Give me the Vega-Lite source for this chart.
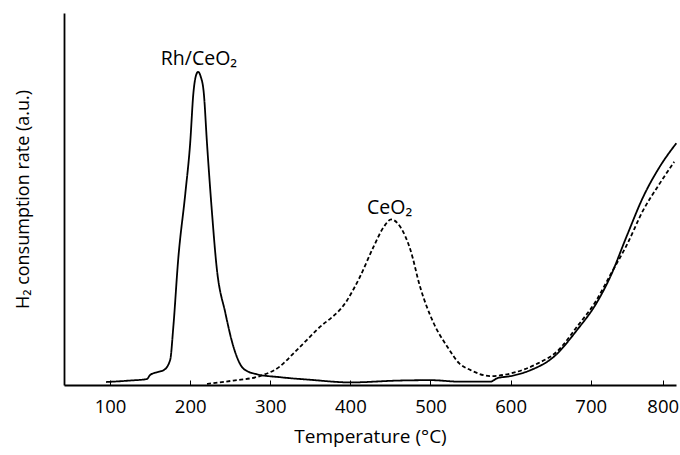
{
  "$schema": "https://vega.github.io/schema/vega-lite/v6.json",
  "width": 612,
  "height": 372,
  "autosize": {"type": "none"},
  "padding": {"left": 64, "top": 13, "right": 4, "bottom": 70},
  "background": "white",
  "config": {
    "view": {"stroke": null},
    "font": "Open Sans",
    "axis": {"grid": false, "domainColor": "black", "domainWidth": 1.8, "labelColor": "black", "titleColor": "black", "titleFontWeight": "normal", "labelFont": "Open Sans", "titleFont": "Open Sans"}
  },
  "datasets": {
    "curves": [
      {"T": 95, "v": 0.8, "s": "Rh/CeO2"},
      {"T": 125, "v": 1.2, "s": "Rh/CeO2"},
      {"T": 146, "v": 1.6, "s": "Rh/CeO2"},
      {"T": 150, "v": 2.7, "s": "Rh/CeO2"},
      {"T": 158, "v": 3.4, "s": "Rh/CeO2"},
      {"T": 167, "v": 4.0, "s": "Rh/CeO2"},
      {"T": 175, "v": 6.7, "s": "Rh/CeO2"},
      {"T": 179, "v": 15.7, "s": "Rh/CeO2"},
      {"T": 185, "v": 33.6, "s": "Rh/CeO2"},
      {"T": 194, "v": 51.6, "s": "Rh/CeO2"},
      {"T": 200, "v": 65, "s": "Rh/CeO2"},
      {"T": 204, "v": 78.4, "s": "Rh/CeO2"},
      {"T": 207, "v": 83, "s": "Rh/CeO2"},
      {"T": 210, "v": 84.2, "s": "Rh/CeO2"},
      {"T": 213, "v": 83, "s": "Rh/CeO2"},
      {"T": 217, "v": 78.5, "s": "Rh/CeO2"},
      {"T": 221, "v": 65, "s": "Rh/CeO2"},
      {"T": 227, "v": 47, "s": "Rh/CeO2"},
      {"T": 233, "v": 31.8, "s": "Rh/CeO2"},
      {"T": 244, "v": 19.3, "s": "Rh/CeO2"},
      {"T": 254, "v": 10.3, "s": "Rh/CeO2"},
      {"T": 267, "v": 4.3, "s": "Rh/CeO2"},
      {"T": 283, "v": 2.9, "s": "Rh/CeO2"},
      {"T": 312, "v": 2.1, "s": "Rh/CeO2"},
      {"T": 350, "v": 1.4, "s": "Rh/CeO2"},
      {"T": 400, "v": 0.7, "s": "Rh/CeO2"},
      {"T": 462, "v": 1.2, "s": "Rh/CeO2"},
      {"T": 500, "v": 1.3, "s": "Rh/CeO2"},
      {"T": 537, "v": 0.9, "s": "Rh/CeO2"},
      {"T": 575, "v": 0.9, "s": "Rh/CeO2"},
      {"T": 583, "v": 1.8, "s": "Rh/CeO2"},
      {"T": 600, "v": 2.4, "s": "Rh/CeO2"},
      {"T": 625, "v": 4.0, "s": "Rh/CeO2"},
      {"T": 654, "v": 7.6, "s": "Rh/CeO2"},
      {"T": 683, "v": 14.8, "s": "Rh/CeO2"},
      {"T": 708, "v": 22, "s": "Rh/CeO2"},
      {"T": 727, "v": 29, "s": "Rh/CeO2"},
      {"T": 750, "v": 40, "s": "Rh/CeO2"},
      {"T": 773, "v": 50.6, "s": "Rh/CeO2"},
      {"T": 796, "v": 58.7, "s": "Rh/CeO2"},
      {"T": 819, "v": 65, "s": "Rh/CeO2"},
      {"T": 221, "v": 0.3, "s": "CeO2"},
      {"T": 254, "v": 1.2, "s": "CeO2"},
      {"T": 287, "v": 2.4, "s": "CeO2"},
      {"T": 312, "v": 5.0, "s": "CeO2"},
      {"T": 329, "v": 8.5, "s": "CeO2"},
      {"T": 358, "v": 14.8, "s": "CeO2"},
      {"T": 396, "v": 22.8, "s": "CeO2"},
      {"T": 412, "v": 29.1, "s": "CeO2"},
      {"T": 429, "v": 37.2, "s": "CeO2"},
      {"T": 442, "v": 42.6, "s": "CeO2"},
      {"T": 451, "v": 44.5, "s": "CeO2"},
      {"T": 462, "v": 42.6, "s": "CeO2"},
      {"T": 475, "v": 36.3, "s": "CeO2"},
      {"T": 487, "v": 26.4, "s": "CeO2"},
      {"T": 504, "v": 16.6, "s": "CeO2"},
      {"T": 521, "v": 10.3, "s": "CeO2"},
      {"T": 536, "v": 5.8, "s": "CeO2"},
      {"T": 550, "v": 4.0, "s": "CeO2"},
      {"T": 575, "v": 2.4, "s": "CeO2"},
      {"T": 600, "v": 3.1, "s": "CeO2"},
      {"T": 634, "v": 5.8, "s": "CeO2"},
      {"T": 658, "v": 9.0, "s": "CeO2"},
      {"T": 683, "v": 15.7, "s": "CeO2"},
      {"T": 708, "v": 22.8, "s": "CeO2"},
      {"T": 727, "v": 29.5, "s": "CeO2"},
      {"T": 750, "v": 37.6, "s": "CeO2"},
      {"T": 773, "v": 47, "s": "CeO2"},
      {"T": 796, "v": 54.2, "s": "CeO2"},
      {"T": 816, "v": 60, "s": "CeO2"}
    ],
    "labels": [
      {"T": 211, "v": 87.6, "label": "Rh/CeO₂"},
      {"T": 449, "v": 47.5, "label": "CeO₂"}
    ]
  },
  "layer": [
    {
      "data": {"name": "curves"},
      "mark": {"type": "line", "strokeWidth": 1.8, "interpolate": "monotone"},
      "encoding": {
        "x": {
          "field": "T", "type": "quantitative",
          "scale": {"domain": [42.5, 700, 818.5], "range": [0, 526.7, 612], "nice": false, "zero": false},
          "axis": {"values": [100, 200, 300, 400, 500, 600, 700, 800], "title": "Temperature (°C)", "tickSize": -5, "tickColor": "black", "tickWidth": 1, "labelFontSize": 18.5, "labelPadding": 17, "titleFontSize": 19, "titlePadding": 12}
        },
        "y": {
          "field": "v", "type": "quantitative",
          "scale": {"domain": [0, 100], "nice": false},
          "axis": {"ticks": false, "labels": false, "title": "H₂ consumption rate (a.u.)", "titleFontSize": 18, "titlePadding": 32}
        },
        "color": {"field": "s", "type": "nominal", "scale": {"domain": ["Rh/CeO2", "CeO2"], "range": ["black", "black"]}, "legend": null},
        "strokeDash": {"field": "s", "type": "nominal", "scale": {"domain": ["Rh/CeO2", "CeO2"], "range": [[1, 0], [4, 2.5]]}, "legend": null}
      }
    },
    {
      "data": {"name": "labels"},
      "mark": {"type": "text", "fontSize": 19.5, "font": "Open Sans", "color": "black", "baseline": "middle", "align": "center"},
      "encoding": {
        "x": {"field": "T", "type": "quantitative"},
        "y": {"field": "v", "type": "quantitative"},
        "text": {"field": "label"}
      }
    }
  ]
}
